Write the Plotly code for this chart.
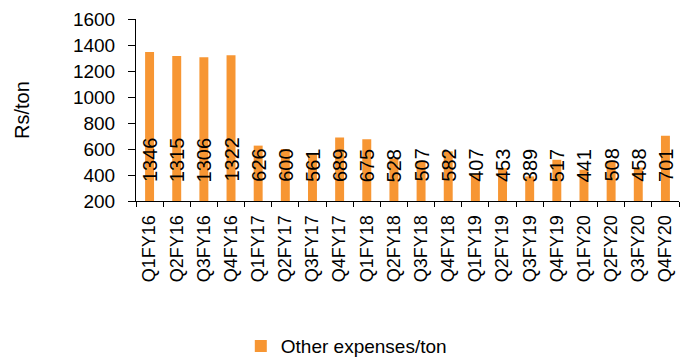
import plotly.graph_objects as go

quarters = ["Q1FY16", "Q2FY16", "Q3FY16", "Q4FY16",
            "Q1FY17", "Q2FY17", "Q3FY17", "Q4FY17",
            "Q1FY18", "Q2FY18", "Q3FY18", "Q4FY18",
            "Q1FY19", "Q2FY19", "Q3FY19", "Q4FY19",
            "Q1FY20", "Q2FY20", "Q3FY20", "Q4FY20"]
other_exp = [1346, 1315, 1306, 1322,
             626, 600, 561, 689,
             675, 528, 507, 582,
             407, 453, 389, 517,
             441, 508, 458, 701]
y_ticks = [200, 400, 600, 800, 1000, 1200, 1400, 1600]

FONT = "Liberation Sans, Arial, sans-serif"
ORANGE = "#F79633"

fig = go.Figure()
fig.add_trace(go.Bar(
    x=quarters, y=other_exp, name="Other expenses/ton",
    marker=dict(color=ORANGE, line=dict(width=0)),
    base=0,
))

# value labels sit just above the axis floor, rotated to read upwards
for q, v in zip(quarters, other_exp):
    fig.add_annotation(
        x=q, y=200, xref="x", yref="y", text=str(v),
        showarrow=False, textangle=-90, yanchor="bottom", yshift=17,
        font=dict(family=FONT, size=20, color="black"),
    )

# y-axis title
fig.add_annotation(
    x=0, y=0.5, xref="paper", yref="paper", text="Rs/ton",
    showarrow=False, textangle=-90, xanchor="center", yanchor="middle",
    xshift=-114, font=dict(family=FONT, size=20, color="black"),
)

fig.update_layout(
    width=693, height=360,
    margin=dict(l=136, r=14, t=19, b=159, autoexpand=False),
    paper_bgcolor="white", plot_bgcolor="white",
    font=dict(family=FONT, size=19, color="black"),
    bargap=0.67,
    showlegend=True,
    legend=dict(orientation="h", x=0.193, xanchor="left", y=-0.797, yanchor="middle",
                font=dict(family=FONT, size=19, color="black"),
                itemwidth=30, tracegroupgap=0),
)
fig.update_xaxes(
    showline=True, linecolor="black", linewidth=1,
    ticks="outside", tickson="boundaries", ticklen=5, tickcolor="black",
    tickangle=-90, tickfont=dict(family=FONT, size=18),
    ticklabelstandoff=6,
    showgrid=False,
)
fig.update_yaxes(
    range=[200, 1600], tickvals=y_ticks,
    showline=True, linecolor="black", linewidth=1,
    ticks="outside", ticklen=7, tickcolor="black",
    tickfont=dict(family=FONT, size=19),
    ticklabelstandoff=9,
    showgrid=False, zeroline=False,
)

fig.write_html("out.html")
